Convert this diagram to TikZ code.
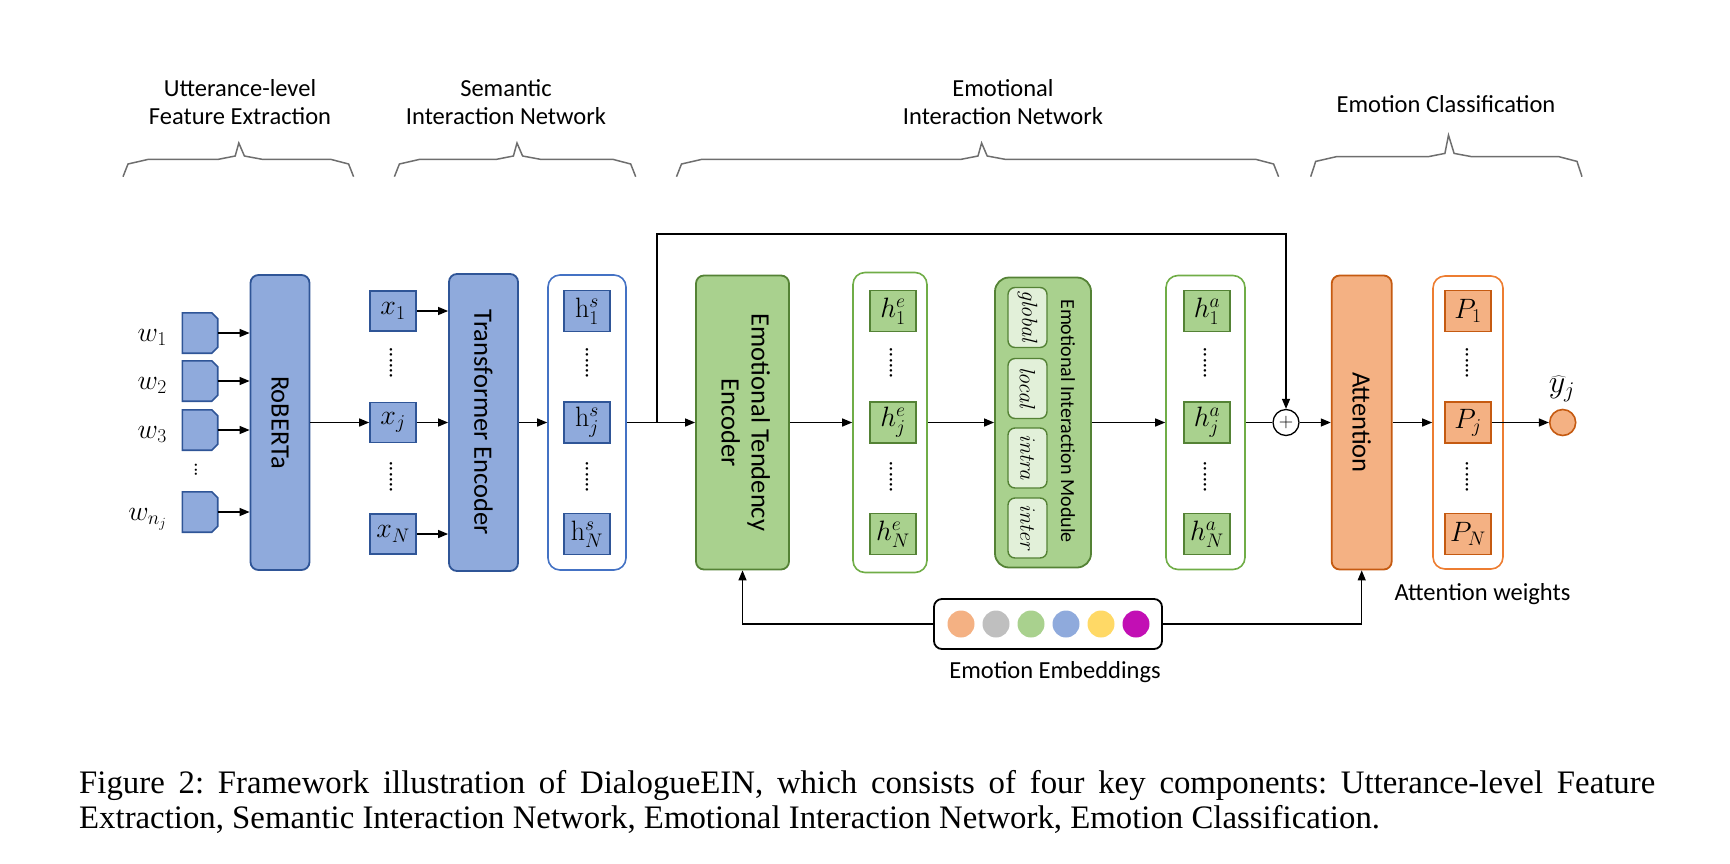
\documentclass[tikz,border=0pt]{standalone}
\usepackage{fix-cm}
\usepackage[no-math]{fontspec}
\setmainfont{Carlito}
\newfontfamily\capfont{Liberation Serif}
\usepackage{tikz}
\usetikzlibrary{calc,arrows.meta}
\definecolor{bfill}{HTML}{8FAADC}
\definecolor{bdraw}{HTML}{2F5597}
\definecolor{bline}{HTML}{4472C4}
\definecolor{gfill}{HTML}{A9D18E}
\definecolor{gdraw}{HTML}{548235}
\definecolor{gline}{HTML}{70AD47}
\definecolor{glite}{HTML}{E2F0D9}
\definecolor{ofill}{HTML}{F4B183}
\definecolor{odraw}{HTML}{C55A11}
\definecolor{oline}{HTML}{ED7D31}
\definecolor{egray}{HTML}{BFBFBF}
\definecolor{eyel}{HTML}{FFD966}
\definecolor{emag}{HTML}{C20FB4}
\definecolor{brgray}{HTML}{6E6E6E}
\tolerance=9999
\hyphenpenalty=10000
\exhyphenpenalty=10000

\begin{document}
\begin{tikzpicture}[x=1pt,y=-1pt,
    arr/.style={-{Triangle[length=10pt,width=8pt]},line width=1.3pt},
    blk/.style 2 args={draw=#2,fill=#1,line width=1.8pt,rounded corners=8pt,inner sep=0pt,
      font=\fontsize{26.5}{30}\selectfont},
    col/.style={draw=#1,fill=white,line width=1.6pt,rounded corners=12pt,inner sep=0pt},
    cell/.style 2 args={draw=#2,fill=#1,line width=1.6pt,inner sep=0pt,
      minimum width=46pt,minimum height=41pt,font=\fontsize{28}{30}\selectfont},
    wd/.style={inner sep=0pt,minimum width=35pt,minimum height=40pt},
    wdline/.style={draw=bdraw,fill=bfill,line width=1.6pt},
    vd/.style={inner sep=0pt,font=\fontsize{21}{21}\selectfont},
    hd/.style={align=center,inner sep=0pt,font=\fontsize{24.5}{28}\selectfont},
    brc/.style={draw=brgray,line width=1.5pt}]
  \useasboundingbox (0,0) rectangle (1730,863);
  % headings
  \node[hd] (hd1) at (240,102) {Utterance-level\\Feature Extraction};
  \node[hd] (hd2) at (506,102) {Semantic\\Interaction Network};
  \node[hd] (hd3) at (1003,102) {Emotional\\Interaction Network};
  \node[hd] (hd4) at (1446,104) {Emotion Classification};
  \foreach \a/\t/\b/\h in {123/238.8/353.6/0, 394.4/517/635.7/0, 676.5/981.6/1278.6/0, 1310.7/1448.5/1582/2.6}
    \draw[brc] (\a,176.7) -- (\a+5,164-\h) -- (\a+25.5,159.3-\h) -- (\t-20.4,159.3-\h)
      -- (\t-3.6,156-\h) -- (\t,143-3*\h) -- (\t+5.6,156-\h) -- (\t+23.4,159.3-\h)
      -- (\b-23,159.3-\h) -- (\b-5,164-\h) -- (\b,176.7);

  % blocks
  \node[blk={bfill}{bdraw},minimum width=59pt,minimum height=295pt] (rob) at (280,422.5) {\rotatebox{-90}{RoBERTa}};
  \node[blk={bfill}{bdraw},minimum width=69pt,minimum height=297pt] (tr) at (483.5,422.5) {\rotatebox{-90}{Transformer Encoder}};
  \node[blk={gfill}{gdraw},minimum width=93pt,minimum height=294pt] (ete) at (742.5,422.5)
    {\rotatebox{-90}{\begin{tabular}{@{}c@{}}Emotional Tendency\\Encoder\end{tabular}}};
  \node[blk={gfill}{gdraw},minimum width=96pt,minimum height=290pt,rounded corners=14pt] (eim) at (1043,422.5) {};
  \node[blk={ofill}{odraw},minimum width=60pt,minimum height=294pt] (att) at (1361.7,422.5) {\rotatebox{-90}{Attention}};

  % module parts
  \foreach \m/\y [count=\k] in {global/317.5, local/388.5, intra/458, inter/528}
    \node[draw=gdraw,fill=glite,line width=1.4pt,rounded corners=7pt,minimum width=39pt,
      minimum height=60pt,inner sep=0pt,font=\fontsize{22}{24}\selectfont] (mod\k) at (1027.5,\y)
      {\rotatebox{-90}{$\mathit{\m}$}};
  \node[inner sep=0pt,font=\fontsize{20}{24}\selectfont] (eiml) at (1068,421) {\rotatebox{-90}{Emotional Interaction Module}};

  % columns
  \node[col=bline,minimum width=78pt,minimum height=295pt] (hs) at (587,422.5) {};
  \node[col=gline,minimum width=74pt,minimum height=300pt] (he) at (890,422.5) {};
  \node[col=gline,minimum width=79pt,minimum height=294pt] (ha) at (1205.5,422.5) {};
  \node[col=oline,minimum width=70pt,minimum height=293pt] (pc) at (1468,422.5) {};
  \foreach \i/\y in {1/311,j/422.5,N/534} {
    \node[cell={bfill}{bdraw},minimum height=40pt] (x\i) at (393,\y) {$x_{\i}$};
    \node[cell={bfill}{bdraw}] (hs\i) at (587,\y) {$\mathrm{h}^s_{\i}$};
    \node[cell={gfill}{gdraw}] (he\i) at (893,\y) {$h^e_{\i}$};
    \node[cell={gfill}{gdraw}] (ha\i) at (1207,\y) {$h^a_{\i}$};
    \node[cell={ofill}{odraw}] (P\i) at (1468,\y) {$P_{\i}$};
  }
  \foreach \x [count=\k] in {391,587,891,1205,1467} {
    \node[vd] (da\k) at (\x,363) {\rotatebox{90}{......}};
    \node[vd] (db\k) at (\x,477) {\rotatebox{90}{......}};
  }

  % words
  \foreach \i/\y/\s in {1/333/1,2/381/2,3/430/3,4/512/n_j} {
    \node[wd] (w\i) at (200,\y) {};
    \draw[wdline] (w\i.south west) -- (w\i.north west) -- ($(w\i.north east)+(-6,0)$)
      -- ($(w\i.north east)+(0,6)$) -- ($(w\i.south east)+(0,-6)$) -- ($(w\i.south east)+(-6,0)$) -- cycle;
    \node[anchor=base east,inner sep=0pt,font=\fontsize{28}{30}\selectfont] (wl\i) at (167,\y+8) {$w_{\s}$};
    \draw[arr] (w\i.east) -- (w\i.east -| rob.west);
  }
  \node[vd,font=\fontsize{18}{18}\selectfont] (wdots) at (196,470) {\rotatebox{90}{...}};

  % sum and output
  \node[circle,draw,line width=1.3pt,minimum size=26pt,inner sep=0pt,font=\fontsize{20}{20}\selectfont] (plus) at (1286,422.5) {$+$};
  \node[circle,draw=odraw,fill=ofill,line width=1.6pt,minimum size=26pt,inner sep=0pt] (yh) at (1562.7,422.5) {};
  \node[inner sep=0pt,font=\fontsize{32}{34}\selectfont] (yl) at (1562,389) {$\widehat{y}_j$};
  \node[inner sep=0pt,font=\fontsize{24.5}{28}\selectfont] (aw) at (1482.5,594) {Attention weights};

  % emotion embeddings
  \node[draw,line width=1.8pt,rounded corners=8pt,minimum width=228pt,minimum height=50pt] (emb) at (1048,624) {};
  \foreach \c [count=\k] in {ofill,egray,gfill,bfill,eyel,emag}
    \node[circle,fill=\c,minimum size=27pt,inner sep=0pt] (e\k) at (926+35*\k,624) {};
  \node[inner sep=0pt,font=\fontsize{24.5}{28}\selectfont] (embl) at (1055,672) {Emotion Embeddings};

  % connectors
  \draw[arr] (rob.east) -- (rob.east -| xj.west);
  \foreach \i in {1,j,N}
    \draw[arr] (x\i.east) -- (x\i.east -| tr.west);
  \draw[arr] (tr.east) -- (tr.east -| hs.west);
  \draw[arr] (hs.east) -- (hs.east -| ete.west);
  \coordinate (tp) at (657,234);
  \coordinate (br) at (hs.east -| tp);
  \draw[arr] (br) -- (tp) -| (plus.north);
  \draw[arr] (ete.east) -- (ete.east -| he.west);
  \draw[arr] (he.east) -- (he.east -| eim.west);
  \draw[arr] (eim.east) -- (eim.east -| ha.west);
  \draw[line width=1.3pt] (ha.east) -- (plus.west);
  \draw[arr] (plus.east) -- (plus.east -| att.west);
  \draw[arr] (att.east) -- (att.east -| pc.west);
  \draw[arr] (Pj.east) -- (yh.west);
  \draw[arr] (emb.west) -| (ete.south);
  \draw[arr] (emb.east) -| (att.south);

  % caption
  \node[anchor=north west,text width=1576pt,align=justify,inner sep=0pt,
    font=\capfont\fontsize{32.8}{35.5}\selectfont\frenchspacing] (cap) at (79,770)
    {Figure 2: Framework illustration of DialogueEIN, which consists of four key components: Utterance-level Feature\linebreak Extraction, Semantic Interaction Network, Emotional Interaction Network, Emotion Classification.};
\end{tikzpicture}
\end{document}
